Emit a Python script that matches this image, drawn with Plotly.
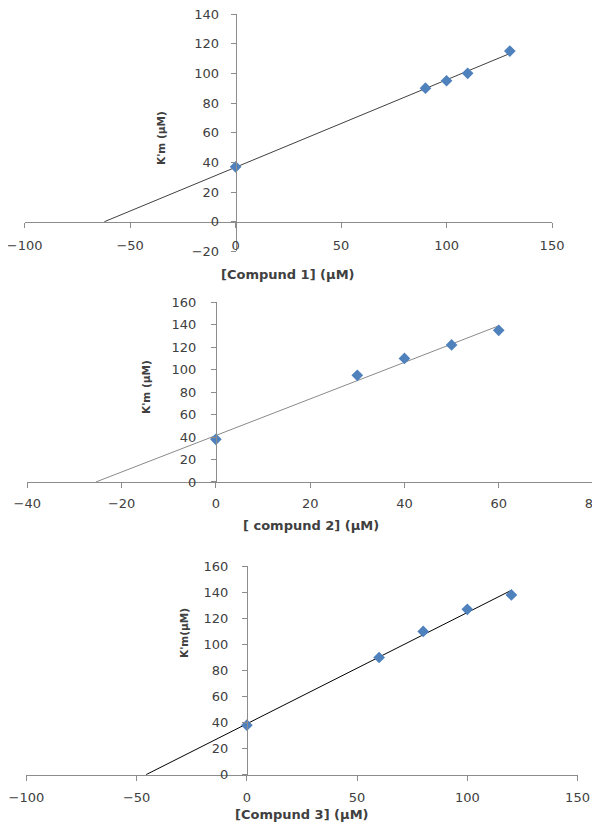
import numpy as np
import plotly.graph_objects as go

# panel data
x1 = [0, 90, 100, 110, 130]
y1 = [37, 90, 95, 100, 115]
x2 = [0, 30, 40, 50, 60]
y2 = [38, 95, 110, 122, 135]
x3 = [0, 60, 80, 100, 120]
y3 = [38, 90, 110, 127, 138]

xtitles = ["[Compund 1] (µM)", "[ compund 2] (µM)", "[Compund 3] (µM)"]
ytitles = ["K'm (µM)", "K'm (µM)", "K'm(µM)"]

BLUE = "#4F81BD"
AX = "#8C8C8C"
TXT = "#404040"
FONT = "DejaVu Sans"

fig = go.Figure()

panels = [
    (x1, y1, "#404040", ""),
    (x2, y2, "#8A8A8A", "2"),
    (x3, y3, "#000000", "3"),
]
for xs, ys, lc, n in panels:
    slope, icpt = np.polyfit(xs, ys, 1)
    x0 = -icpt / slope
    xl = [x0, max(xs)]
    fig.add_trace(go.Scatter(x=xl, y=[slope * v + icpt for v in xl], mode="lines",
                             line=dict(color=lc, width=1), xaxis="x" + n, yaxis="y" + n,
                             hoverinfo="skip"))
    fig.add_trace(go.Scatter(x=xs, y=ys, mode="markers",
                             marker=dict(symbol="diamond", size=9, color=BLUE),
                             xaxis="x" + n, yaxis="y" + n))

tick = dict(showline=True, linecolor=AX, linewidth=1, ticks="outside", ticklen=5,
            tickcolor=AX, showgrid=False, zeroline=False, automargin=False,
            ticklabeloverflow="allow",
            tickfont=dict(family=FONT, size=13, color=TXT))

fig.update_layout(
    template="none",
    width=600, height=823, margin=dict(l=0, r=0, t=0, b=0, autoexpand=False),
    paper_bgcolor="white", plot_bgcolor="white", showlegend=False,
    xaxis=dict(tick, domain=[0.0278, 0.9067], range=[-100, 150], dtick=50,
               anchor="free", position=0.74, ticklabelstandoff=6),
    yaxis=dict(tick, domain=[0.7043, 0.9927], range=[-20, 140], dtick=20,
               anchor="free", position=0.3795, ticklabelstandoff=9),
    xaxis2=dict(tick, domain=[0.0322, 0.975], range=[-40, 80], dtick=20,
                anchor="y2", ticklabelstandoff=4),
    yaxis2=dict(tick, domain=[0.4241, 0.6424], range=[0, 160], dtick=20,
                anchor="free", position=0.3465, ticklabelstandoff=12),
    xaxis3=dict(tick, domain=[0.0307, 0.9492], range=[-100, 150], dtick=50,
                anchor="y3", ticklabelstandoff=6),
    yaxis3=dict(tick, domain=[0.0684, 0.3216], range=[0, 160], dtick=20,
                anchor="free", position=0.3982, ticklabelstandoff=11),
)

# axis titles (pixel positions from the reference)
xt_pos = [(280, 257), (303, 517), (294, 816)]
yt_pos = [(145, 101), (130, 379), (168, 652)]
for t, (px, py) in zip(xtitles, xt_pos):
    fig.add_annotation(text="<b>%s</b>" % t, x=px / 600, y=1 - py / 823, xref="paper", yref="paper",
                       showarrow=False, font=dict(family=FONT, size=13, color=TXT))
for t, (px, py) in zip(ytitles, yt_pos):
    fig.add_annotation(text="<b>%s</b>" % t, x=px / 600, y=1 - py / 823, xref="paper", yref="paper",
                       showarrow=False, textangle=-90, font=dict(family=FONT, size=10.5, color=TXT))

fig.write_html("out.html")
